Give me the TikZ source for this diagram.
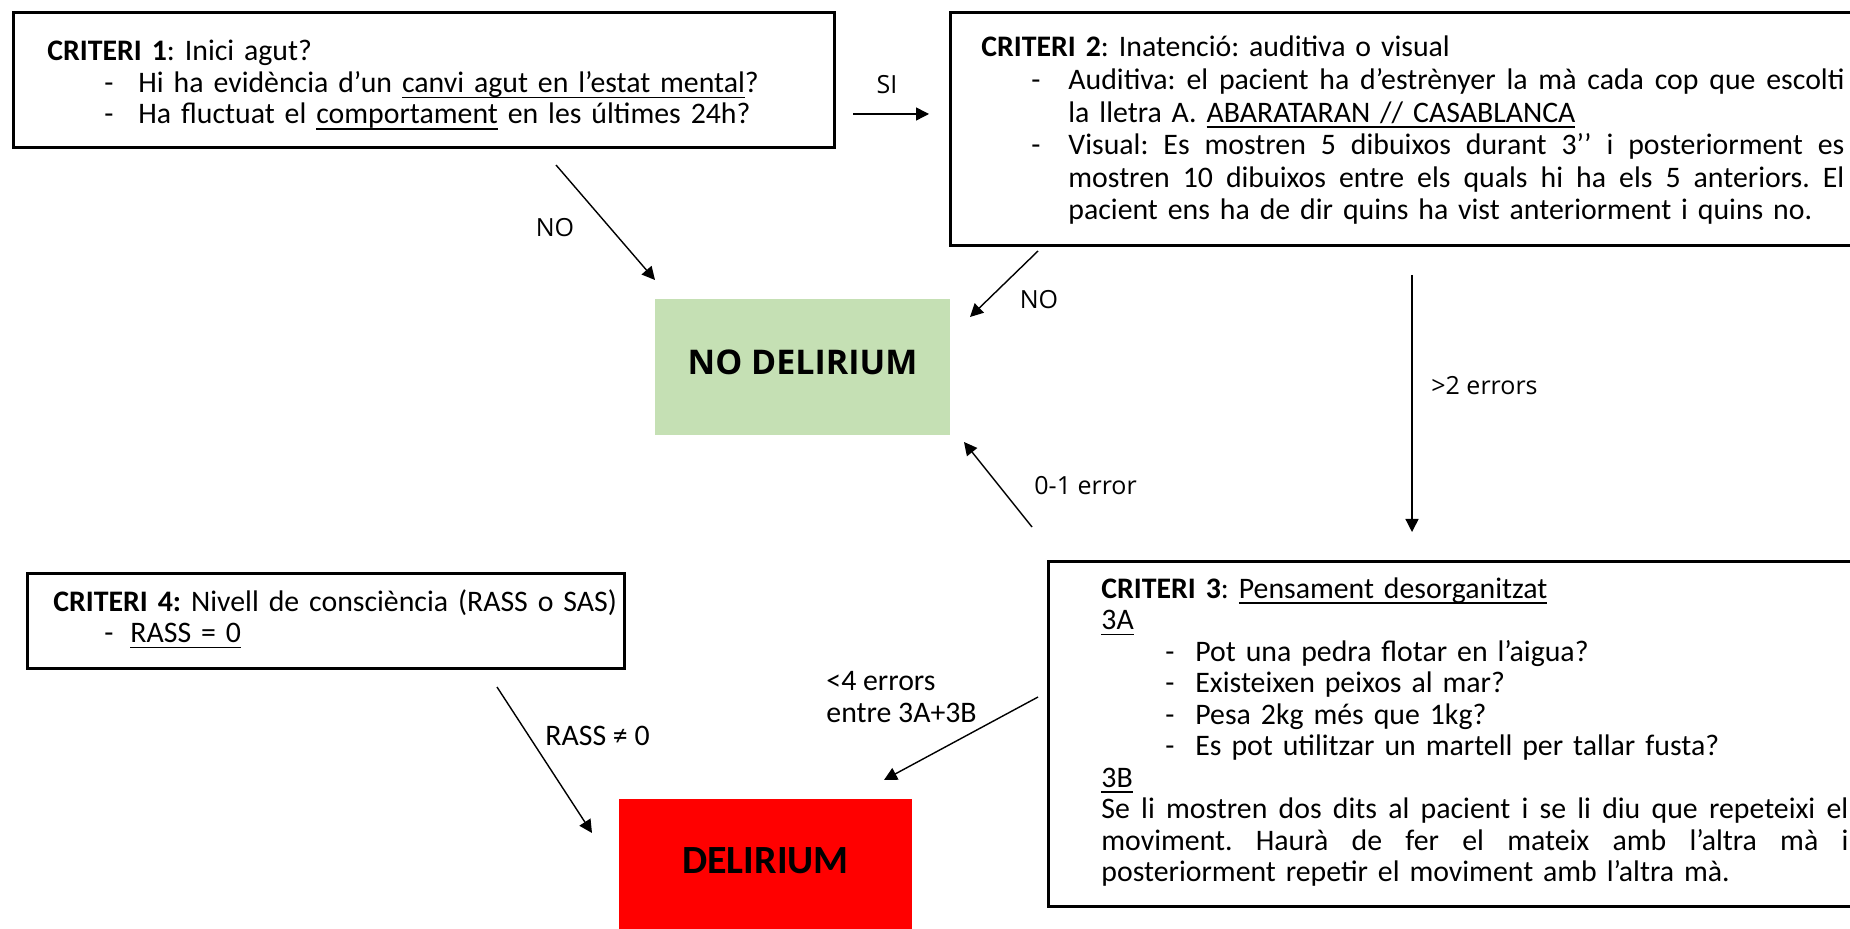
\documentclass[tikz,border=0pt]{standalone}
\usepackage{fontspec}
\setmainfont{Carlito}
\newfontfamily\osans{Open Sans}
\usetikzlibrary{arrows.meta}
\frenchspacing
\definecolor{nodgreen}{HTML}{C5E0B4}
\definecolor{delred}{HTML}{FF0000}
\newcommand\boxfont{\fontsize{14.9}{15.75}\selectfont\lineskiplimit=-20pt\frenchspacing\relax}
\newcommand\boxfontb{\fontsize{14.9}{16.3}\selectfont\lineskiplimit=-20pt\frenchspacing\relax}
\newcommand\dashitem[3]{\makebox[#2][l]{\hspace*{#1}-}#3}
\newcommand\jline[2]{\leavevmode\hbox to #1{\spaceskip=0.226em plus 1fil\xspaceskip=\spaceskip #2}}
\newcommand\myul[1]{\leavevmode\setbox0\hbox{#1}\rlap{\rule[-2.9pt]{\wd0}{0.8pt}}\box0\relax}
\tikzset{
  critbox/.style={draw=black, line width=1.5pt, rectangle, anchor=north west, inner sep=0pt},
  crittext/.style={anchor=base west, inner sep=0pt, align=left},
  arr/.style={-{Triangle[length=6.5pt,width=6.5pt]}, line width=0.7pt},
  olab/.style={inner sep=0pt, font=\osans\fontsize{12.5}{15}\selectfont},
  clab/.style={inner sep=0pt, font=\fontsize{14.9}{15.7}\selectfont, align=left},
}
\begin{document}
\begin{tikzpicture}[x=0.5pt,y=-0.5pt]
\useasboundingbox (0,0) rectangle (1850,929);
% boxes
\node[critbox, minimum width=410.5pt, minimum height=67.5pt] (c1) at (12,11) {};
\node[critbox, minimum width=460.5pt, minimum height=116.5pt] (c2) at (949,11) {};
\node[critbox, minimum width=411.5pt, minimum height=172.5pt] (c3) at (1047,560) {};
\node[critbox, minimum width=298.5pt, minimum height=47.5pt] (c4) at (26,572) {};
\node[fill=nodgreen, minimum width=147.5pt, minimum height=68pt, inner sep=0pt, text depth=5pt,
      font=\osans\bfseries\fontsize{17}{20}\selectfont] (nod) at (802.5,367) {NO DELIRIUM};
\node[fill=delred, minimum width=146.5pt, minimum height=68pt, inner sep=0pt, text depth=6pt,
      font=\bfseries\fontsize{20}{24}\selectfont] (del) at (765.5,867) {DELIRIUM};
% texts
\node[crittext, text width=420pt, font=\boxfont] (t1) at (47,61) {%
\textbf{CRITERI 1}: Inici agut?\\
\dashitem{28.5pt}{45.5pt}{Hi ha evidència d’un \myul{canvi agut en l’estat mental}?}\\
\dashitem{28.5pt}{45.5pt}{Ha fluctuat el \myul{comportament} en les últimes 24h?}};
\node[crittext, text width=440pt, font=\boxfontb] (t2) at (981,57) {%
\textbf{CRITERI 2}: Inatenció: auditiva o visual\\
\dashitem{25pt}{43.5pt}{\jline{388pt}{Auditiva: el pacient ha d’estrènyer la mà cada cop que escolti}}\\
\hspace*{43.5pt}la lletra A. \myul{ABARATARAN // CASABLANCA}\\
\dashitem{25pt}{43.5pt}{\jline{388pt}{Visual: Es mostren 5 dibuixos durant 3’’ i posteriorment es}}\\
\hspace*{43.5pt}\jline{388pt}{mostren 10 dibuixos entre els quals hi ha els 5 anteriors. El}\\
\hspace*{43.5pt}pacient ens ha de dir quins ha vist anteriorment i quins no.};
\node[crittext, text width=380pt, font=\boxfont] (t3) at (1101,598) {%
\textbf{CRITERI 3}: \myul{Pensament desorganitzat}\\
\myul{3A}\\
\dashitem{32pt}{47pt}{Pot una pedra flotar en l’aigua?}\\
\dashitem{32pt}{47pt}{Existeixen peixos al mar?}\\
\dashitem{32pt}{47pt}{Pesa 2kg més que 1kg?}\\
\dashitem{32pt}{47pt}{Es pot utilitzar un martell per tallar fusta?}\\
\myul{3B}\\
\jline{373.5pt}{Se li mostren dos dits al pacient i se li diu que repeteixi el}\\
\jline{373.5pt}{moviment. Haurà de fer el mateix amb l’altra mà i}\\
posteriorment repetir el moviment amb l’altra mà.};
\node[crittext, text width=300pt, font=\boxfont] (t4) at (53,611) {%
\textbf{CRITERI 4:} Nivell de consciència (RASS o SAS)\\
\dashitem{25.5pt}{38.5pt}{\myul{RASS = 0}}};
% connector ends
\coordinate (siA) at (853,114);   \coordinate (siB) at (929,114);
\coordinate (noA) at (556,165);   \coordinate (noB) at (655,280);
\coordinate (nobA) at (1038,251); \coordinate (nobB) at (970,317);
\coordinate (gtA) at (1412,275);  \coordinate (gtB) at (1412,532);
\coordinate (zeA) at (1032,527);  \coordinate (zeB) at (964,442);
\coordinate (ltA) at (1038,697);  \coordinate (ltB) at (884,780);
\coordinate (raA) at (497,687);   \coordinate (raB) at (592,833);
\draw[arr] (siA) -- (siB);
\draw[arr] (noA) -- (noB);
\draw[arr] (nobA) -- (nobB);
\draw[arr] (gtA) -- (gtB);
\draw[arr] (zeA) -- (zeB);
\draw[arr] (ltA) -- (ltB);
\draw[arr] (raA) -- (raB);
% labels
\node[olab] (lsi) at (887,85) {SI};
\node[olab] (lno1) at (555,228) {NO};
\node[olab] (lno2) at (1039,300) {NO};
\node[olab, anchor=west] (lgt) at (1431,386) {>2 errors};
\node[olab, anchor=west] (lze) at (1034,486) {0-1 error};
\node[clab, anchor=west] (llt) at (826,697) {<4 errors\\entre 3A+3B};
\node[clab, anchor=west] (lra) at (545,736) {RASS ≠ 0};
\end{tikzpicture}
\end{document}
